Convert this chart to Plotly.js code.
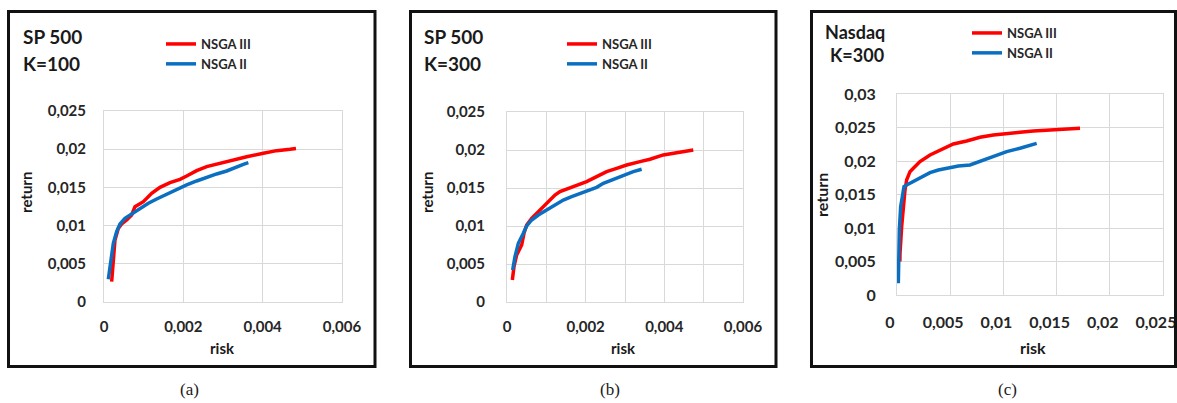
<!DOCTYPE html>
<html>
<head>
<meta charset="utf-8">
<script src="https://cdn.plot.ly/plotly-3.0.1.min.js"></script>
<style>
html,body{margin:0;padding:0;background:#fff;}
#chart{width:1177px;height:403px;}
</style>
</head>
<body>
<div id="chart"></div>
<script>
// ---------- data ----------
const seriesNames = ['NSGA III', 'NSGA II'];

// (a) SP 500, K=100
const aRiskNSGA3 = [0.000193,0.000235,0.000277,0.000361,0.000445,0.000571,0.000697,0.000781,0.000992,0.001202,0.001412,0.001664,0.001916,0.002084,0.002336,0.002588,0.002924,0.00326,0.003597,0.004017,0.004353,0.004689,0.00484];
const aRetNSGA3  = [0.00266,0.0055,0.00812,0.00964,0.01021,0.01073,0.01139,0.01248,0.01313,0.01423,0.01501,0.01562,0.01606,0.01649,0.01719,0.01772,0.01815,0.01868,0.01902,0.01946,0.01981,0.01998,0.0201];
const aRiskNSGA2 = [0.000109,0.000168,0.000235,0.000319,0.000403,0.000529,0.000697,0.000908,0.001118,0.001328,0.00158,0.001832,0.002084,0.002336,0.002588,0.00284,0.003093,0.003345,0.003513,0.003639];
const aRetNSGA2  = [0.00297,0.0055,0.00768,0.00921,0.01021,0.01095,0.01152,0.01226,0.01292,0.01348,0.01409,0.01475,0.01532,0.01584,0.01632,0.01676,0.01715,0.01772,0.01802,0.01824];

// (b) SP 500, K=300
const bRiskNSGA3 = [0.000136,0.000178,0.000246,0.000313,0.000373,0.000432,0.0005,0.000627,0.000754,0.000881,0.001008,0.001093,0.00122,0.001347,0.001517,0.001771,0.002025,0.002279,0.002534,0.002788,0.003042,0.003381,0.003635,0.003974,0.004313,0.004736];
const bRetNSGA3  = [0.0029,0.00465,0.00619,0.00684,0.0075,0.00904,0.01013,0.01101,0.01167,0.01233,0.01299,0.01351,0.01408,0.01452,0.01483,0.01527,0.01584,0.01649,0.01715,0.01759,0.01803,0.01847,0.01878,0.01935,0.01965,0.0200];
const bRiskNSGA2 = [0.000144,0.000203,0.000288,0.000347,0.000415,0.0005,0.000627,0.000796,0.001008,0.00122,0.001432,0.001644,0.001856,0.00211,0.002279,0.002449,0.002703,0.002957,0.003211,0.003423];
const bRetNSGA2  = [0.00421,0.00597,0.00772,0.00825,0.00904,0.01,0.01079,0.01145,0.01211,0.01277,0.01342,0.01386,0.0143,0.01474,0.01509,0.01562,0.01614,0.01671,0.01715,0.01746];

// (c) Nasdaq, K=300
const cRiskNSGA3 = [0.00027,0.000282,0.000439,0.000595,0.000752,0.000909,0.001222,0.001535,0.002162,0.003102,0.004042,0.005295,0.006549,0.007802,0.009055,0.010309,0.011562,0.012815,0.014069,0.015322,0.017202];
const cRetNSGA3  = [0.005,0.00622,0.0102,0.01319,0.01568,0.01717,0.01841,0.01891,0.01991,0.0209,0.02165,0.02254,0.02299,0.02354,0.02389,0.02414,0.02429,0.02449,0.02463,0.02473,0.02489];
const cRiskNSGA2 = [0.000125,0.000157,0.000219,0.000345,0.000501,0.000658,0.000909,0.001535,0.002319,0.003102,0.003885,0.004669,0.005765,0.006862,0.007489,0.008429,0.009369,0.010309,0.011562,0.012502,0.013129];
const cRetNSGA2  = [0.00174,0.00523,0.0097,0.01319,0.01518,0.01617,0.01642,0.01692,0.01757,0.01826,0.01866,0.01891,0.01926,0.01941,0.01976,0.0204,0.0209,0.0214,0.0219,0.0224,0.02264];

// tick values / labels
const spRiskTicks  = [0, 0.002, 0.004, 0.006];
const spRiskLabels = ['0', '0,002', '0,004', '0,006'];
const spRetTicks   = [0, 0.005, 0.01, 0.015, 0.02, 0.025];
const spRetLabels  = ['0', '0,005', '0,01', '0,015', '0,02', '0,025'];
const nqRiskTicks  = [0, 0.005, 0.01, 0.015, 0.02, 0.025];
const nqRiskLabels = ['0', '0,005', '0,01', '0,015', '0,02', '0,025'];
const nqRetTicks   = [0, 0.005, 0.01, 0.015, 0.02, 0.025, 0.03];
const nqRetLabels  = ['0', '0,005', '0,01', '0,015', '0,02', '0,025', '0,03'];

const panelTitles = [['SP 500', 'K=100'], ['SP 500', 'K=300'], ['Nasdaq', 'K=300']];
const panelCaptions = ['(a)', '(b)', '(c)'];

// ---------- helpers ----------
const W = 1177, H = 403;
const px = x => x / W;
const py = y => 1 - y / H;
const RED = '#ff0000', BLUE = '#0b6fc1';
const GRID = '#d9d9d9';
const FONT = 'Lato, "Open Sans", sans-serif';
const SERIF = '"Liberation Serif", "DejaVu Serif", serif';

function tr(x, y, name, color, ax, leg) {
  return {
    x: x, y: y, name: name, type: 'scatter', mode: 'lines',
    line: {color: color, width: 3.5},
    xaxis: 'x' + ax, yaxis: 'y' + ax, legend: leg,
    hoverinfo: 'skip'
  };
}

const data = [
  tr(aRiskNSGA3, aRetNSGA3, seriesNames[0], RED, '', 'legend'),
  tr(aRiskNSGA2, aRetNSGA2, seriesNames[1], BLUE, '', 'legend'),
  tr(bRiskNSGA3, bRetNSGA3, seriesNames[0], RED, '2', 'legend2'),
  tr(bRiskNSGA2, bRetNSGA2, seriesNames[1], BLUE, '2', 'legend2'),
  tr(cRiskNSGA3, cRetNSGA3, seriesNames[0], RED, '3', 'legend3'),
  tr(cRiskNSGA2, cRetNSGA2, seriesNames[1], BLUE, '3', 'legend3')
];

function axisBase(dom, anchor, range, tv, tt, fs, standoff, extra) {
  return Object.assign({
    domain: dom, anchor: anchor, range: range,
    tickmode: 'array', tickvals: tv, ticktext: tt,
    showgrid: true, gridcolor: GRID, gridwidth: 1,
    showline: true, linecolor: GRID, linewidth: 1, mirror: true,
    zeroline: false, ticks: '',
    tickfont: {family: FONT, size: fs, color: '#262626', weight: 'bold'},
    ticklabelstandoff: standoff, ticklabeloverflow: 'allow', fixedrange: true
  }, extra || {});
}

function legendAt(x, y) {
  return {
    x: px(x), y: py(y), xanchor: 'left', yanchor: 'top',
    bgcolor: 'rgba(0,0,0,0)', borderwidth: 0,
    font: {family: FONT, size: 13, color: '#262626', weight: 'bold'},
    tracegroupgap: 0, itemclick: false, itemdoubleclick: false
  };
}

function ann(x, y, text, size, opts) {
  return Object.assign({
    xref: 'paper', yref: 'paper', x: px(x), y: py(y),
    text: text, showarrow: false, xanchor: 'center', yanchor: 'middle',
    font: {family: FONT, size: size, color: '#1a1a1a', weight: 'bold'}
  }, opts || {});
}
const capFont = {family: SERIF, size: 17, color: '#1a1a1a'};

const annotations = [
  // panel titles
  ann(52, 37, panelTitles[0][0], 19), ann(51, 63, panelTitles[0][1], 19),
  ann(453, 37, panelTitles[1][0], 19), ann(452, 63, panelTitles[1][1], 19),
  ann(855, 32, panelTitles[2][0], 18), ann(857, 55, panelTitles[2][1], 18),
  // axis titles
  ann(222, 348, 'risk', 15), ann(26, 193, 'return', 15, {textangle: -90}),
  ann(623, 348, 'risk', 15), ann(427, 193, 'return', 15, {textangle: -90}),
  ann(1033, 347, 'risk', 16), ann(821, 195, 'return', 16, {textangle: -90}),
  // captions
  ann(189, 389, panelCaptions[0], 17, {font: capFont}),
  ann(610, 389, panelCaptions[1], 17, {font: capFont}),
  ann(1007, 389, panelCaptions[2], 17, {font: capFont})
];

function box(x0, y0, x1, y1, w, c) {
  return {type: 'rect', xref: 'paper', yref: 'paper',
    x0: px(x0), y0: py(y0), x1: px(x1), y1: py(y1),
    line: {color: c || '#111', width: w}, fillcolor: 'rgba(0,0,0,0)', layer: 'above'};
}

const shapes = [
  box(8.5, 11.5, 375, 366.5, 3),
  box(410.5, 11.5, 776, 366.5, 3),
  box(811.5, 11.5, 1175.5, 366.5, 3)
];

const layout = {
  width: W, height: H,
  margin: {l: 0, r: 0, t: 0, b: 0},
  paper_bgcolor: '#fff', plot_bgcolor: '#fff',
  font: {family: FONT, color: '#262626'},
  xaxis:  axisBase([px(104), px(342)], 'y',  [0, 0.006], spRiskTicks, spRiskLabels, 15, 11),
  yaxis:  axisBase([py(302), py(111)], 'x',  [0, 0.025], spRetTicks, spRetLabels, 15, 14),
  xaxis2: axisBase([px(507), px(743)], 'y2', [0, 0.006], spRiskTicks, spRiskLabels, 15, 11,
              {minor: {dtick: 0.001, showgrid: true, gridcolor: GRID, gridwidth: 1, ticks: ''}}),
  yaxis2: axisBase([py(302), py(112)], 'x2', [0, 0.025], spRetTicks, spRetLabels, 15, 18),
  xaxis3: axisBase([px(897), px(1163)], 'y3', [0, 0.025], nqRiskTicks, nqRiskLabels, 16, 13,
              {ticklabelshift: -7}),
  yaxis3: axisBase([py(295), py(94)], 'x3', [0, 0.03], nqRetTicks, nqRetLabels, 16, 17),
  showlegend: true,
  legend: legendAt(161, 29),
  legend2: legendAt(562, 29),
  legend3: legendAt(967, 18),
  annotations: annotations,
  shapes: shapes
};

Plotly.newPlot('chart', data, layout, {displayModeBar: false, staticPlot: true});
</script>
</body>
</html>
